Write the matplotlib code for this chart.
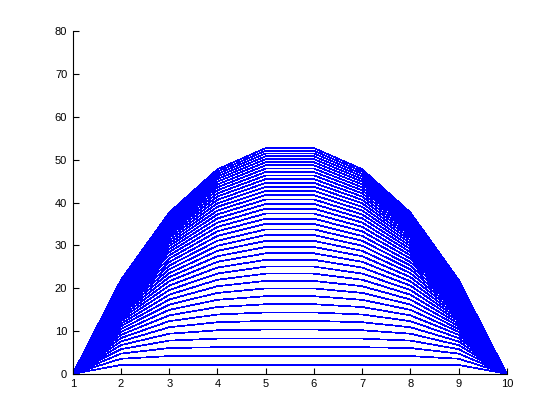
import numpy as np
import matplotlib
matplotlib.use("Agg")
import matplotlib.pyplot as plt

# grid positions (x axis) and the measured shape of the run
x_nodes = [1, 2, 3, 4, 5, 6, 7, 8, 9, 10]
source_step = 2.07     # height of the first (flat) line
diffusion_rate = 0.30  # estimated from how the lines bunch up near the top
n_steps = 40           # number of lines drawn
x_ticks = [1, 2, 3, 4, 5, 6, 7, 8, 9, 10]
y_ticks = [0, 10, 20, 30, 40, 50, 60, 70, 80]

# iterate the explicit diffusion update that produced the family of lines
u = np.zeros(len(x_nodes))
curves = []
for _ in range(n_steps):
    lap = np.zeros_like(u)
    lap[1:-1] = u[:-2] - 2 * u[1:-1] + u[2:]
    u = u + diffusion_rate * lap
    u[1:-1] += source_step
    curves.append(u.copy())

fig = plt.figure(figsize=(5.6, 4.2), dpi=100)
ax = fig.add_axes([0.13, 0.11, 0.775, 0.815])
for c in curves:
    ax.plot(x_nodes, c, color=(0, 0, 1), linewidth=0.5, antialiased=False)

ax.set_xlim(1, 10)
ax.set_ylim(0, 80)
ax.set_xticks(x_ticks)
ax.set_yticks(y_ticks)
for s in ("top", "right"):
    ax.spines[s].set_visible(False)
for s in ("left", "bottom"):
    ax.spines[s].set_linewidth(0.8)
ax.tick_params(direction="in", length=4, width=0.8, labelsize=8, pad=4)
for lab in ax.get_xticklabels() + ax.get_yticklabels():
    lab.set_fontfamily("Liberation Sans")

fig.savefig("out.png", dpi=100)
